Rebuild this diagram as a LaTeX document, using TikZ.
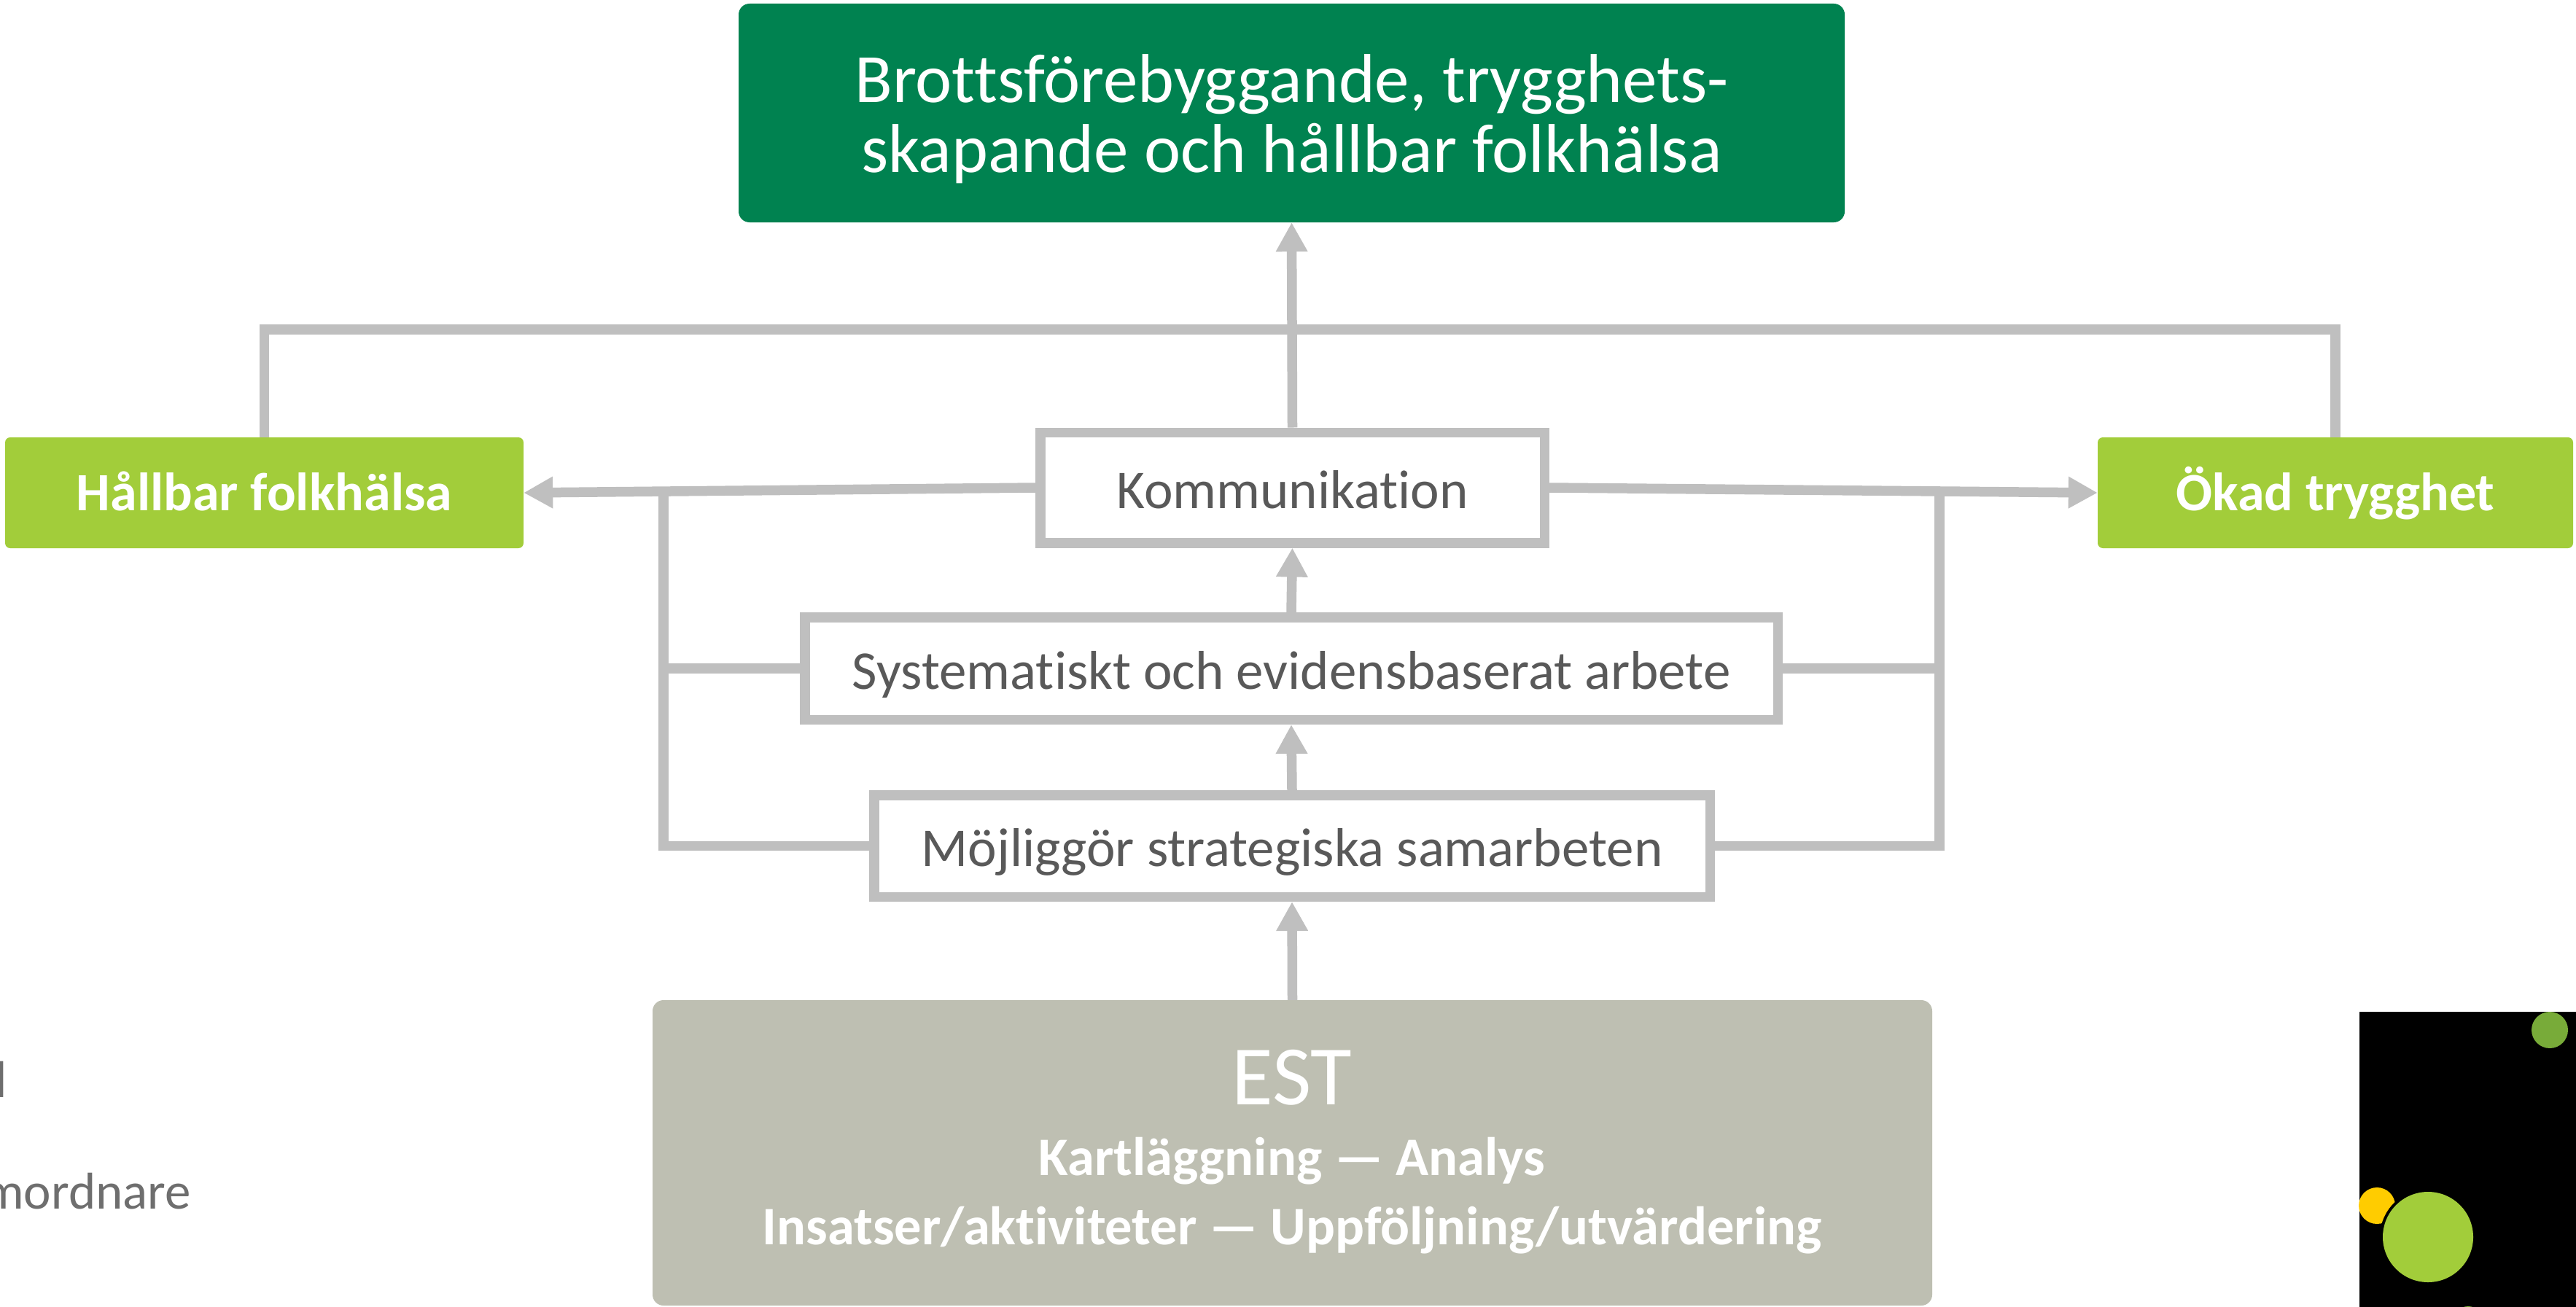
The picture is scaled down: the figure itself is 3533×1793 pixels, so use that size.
\documentclass[tikz,border=0pt]{standalone}
\usepackage{fontspec}
\setmainfont{Carlito}[Ligatures=NoCommon]
\usetikzlibrary{arrows.meta,calc}
\definecolor{dgreen}{RGB}{0,130,80}
\definecolor{lgreen}{RGB}{162,205,58}
\definecolor{lgray}{RGB}{191,191,191}
\definecolor{estgray}{RGB}{190,191,178}
\definecolor{txtgray}{RGB}{89,89,89}
\definecolor{sidegray}{RGB}{110,110,110}
\definecolor{cgreen}{RGB}{120,171,57}
\definecolor{cyellow}{RGB}{255,204,0}
\begin{document}
\begin{tikzpicture}[x=1pt,y=-1pt,
  conn/.style={draw=lgray,line width=13.5pt},
  arr/.style={conn,-{Triangle[length=40pt,width=41pt]}},
  whitebox/.style={draw=lgray,line width=13.5pt,fill=white,text=txtgray,
    font=\fontsize{75}{90}\selectfont,text height=69pt,text depth=13pt,inner sep=0pt},
  sidebox/.style={fill=lgreen,rounded corners=7pt,text=white,
    font=\fontsize{74}{88}\bfseries\selectfont,text height=61pt,text depth=13pt,
    minimum width=711pt,minimum height=152pt,inner sep=0pt},
  esttxt/.style={text=white,anchor=base,inner sep=0pt}
]
\useasboundingbox (0,0) rectangle (3533,1793);
% top goal box
\node[fill=dgreen,rounded corners=15pt,minimum width=1517pt,minimum height=300pt,inner sep=0pt]
  (goal) at (1771.5,155) {};
\node[text=white,align=center,font=\fontsize{95}{96}\selectfont,inner sep=0pt,anchor=center]
  (goaltxt) at (1771.5,163) {Brottsförebyggande, trygghets-\\skapande och hållbar folkhälsa};
% side boxes
\node[sidebox] (hall) at (362.5,676) {Hållbar folkhälsa};
\node[sidebox,minimum width=652pt] (okad) at (3203,676) {Ökad trygghet};
% middle boxes
\node[whitebox,minimum width=691.5pt,minimum height=151.5pt] (komm) at (1772.5,669) {Kommunikation};
\node[whitebox,minimum width=1334.5pt,minimum height=140.5pt] (syst) at (1771,917) {Systematiskt och evidensbaserat arbete};
\node[whitebox,minimum width=1146.5pt,minimum height=139.5pt] (moj) at (1772,1160.5) {Möjliggör strategiska samarbeten};
% EST box
\node[fill=estgray,rounded corners=15pt,minimum width=1755pt,minimum height=419pt,inner sep=0pt]
  (est) at (1772.5,1581.5) {};
\node[esttxt,font=\fontsize{116}{130}\selectfont] (estt) at (1772,1515) {EST};
\node[esttxt,font=\fontsize{74.5}{88}\bfseries\selectfont] (est1) at (1772,1612) {Kartläggning — Analys};
\node[esttxt,font=\fontsize{74.5}{88}\bfseries\selectfont] (est2) at (1772,1707) {Insatser/aktiviteter — Uppföljning/utvärdering};
% connectors
\coordinate (tl) at (1772,452);
\coordinate (lt) at (910,675);
\coordinate (rt) at (2660,675);
\draw[conn] (hall.north) |- (tl) -| (okad.north);
\draw[arr] (komm.north) -- (goal.south);
\draw[arr] (komm.west) -- (hall.east);
\draw[arr] (komm.east) -- (okad.west);
\draw[conn] (syst.west) -| (lt);
\draw[conn] (moj.west) -| (lt);
\draw[conn] (syst.east) -| (rt);
\draw[conn] (moj.east) -| (rt);
\draw[arr] (syst.north) -- (komm.south);
\draw[arr] (moj.north) -- (syst.south);
\draw[arr] (est.north) -- (moj.south);
% left cut-off texts
\node[anchor=base east,inner sep=0pt,text=sidegray,font=\fontsize{71}{84}\selectfont] (frag1) at (10,1505) {d};
\node[anchor=base east,inner sep=0pt,text=sidegray,font=\fontsize{71}{84}\selectfont] (frag2) at (262,1658) {samordnare};
% decorative corner
\fill[black] (3236,1388) rectangle (3533,1793);
\fill[cgreen] (3497,1413) circle (25);
\fill[cyellow] (3260,1654) circle (25);
\fill[black] (3330,1697) circle (66);
\fill[lgreen] (3330,1697) circle (62);
\fill[cgreen] (3385,1812) circle (20);
\end{tikzpicture}
\end{document}
